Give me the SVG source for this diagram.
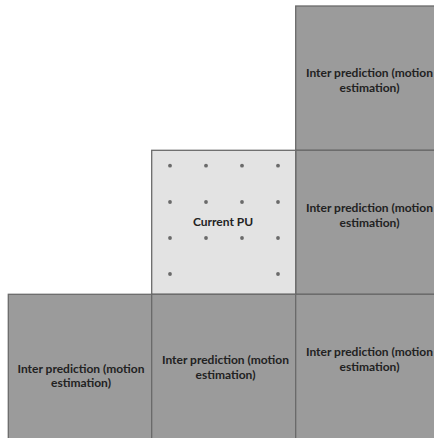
<svg xmlns="http://www.w3.org/2000/svg" width="434" height="438" viewBox="0 0 434 438">
<style>
.blk{fill:#9b9b9b;stroke:#6a6a6a;stroke-width:1.3}
.pu{fill:#e3e3e3;stroke:#6a6a6a;stroke-width:1.3}
.t{font-family:Lato,"Liberation Sans",sans-serif;font-weight:bold;font-size:12px;fill:#222;text-anchor:middle}
.d{fill:#6a6a6a}
</style>
<rect width="434" height="438" fill="#ffffff"/>
<g id="tr"><rect class="blk" x="295.7" y="6" width="150" height="144.3"/>
<text class="t" x="369.5" y="77">Inter prediction (motion</text><text class="t" x="369.5" y="91.6">estimation)</text></g>
<g id="mr"><rect class="blk" x="295.7" y="150.3" width="150" height="144"/>
<text class="t" x="369.5" y="211.6">Inter prediction (motion</text><text class="t" x="369.5" y="227">estimation)</text></g>
<g id="pu"><rect class="pu" x="151.7" y="150.3" width="144" height="144"/>
<g class="d">
<circle cx="170" cy="165.7" r="1.9"/><circle cx="206" cy="165.7" r="1.9"/><circle cx="242" cy="165.7" r="1.9"/><circle cx="278" cy="165.7" r="1.9"/>
<circle cx="170" cy="202" r="1.9"/><circle cx="206" cy="202" r="1.9"/><circle cx="242" cy="202" r="1.9"/><circle cx="278" cy="202" r="1.9"/>
<circle cx="170" cy="238" r="1.9"/><circle cx="206" cy="238" r="1.9"/><circle cx="242" cy="238" r="1.9"/><circle cx="278" cy="238" r="1.9"/>
<circle cx="170" cy="274" r="1.9"/><circle cx="278" cy="274" r="1.9"/>
</g>
<text class="t" x="223" y="226.3">Current PU</text></g>
<g id="bl"><rect class="blk" x="8.3" y="294.3" width="143.4" height="150"/>
<text class="t" x="81" y="372.5">Inter prediction (motion</text><text class="t" x="81" y="387">estimation)</text></g>
<g id="bm"><rect class="blk" x="151.7" y="294.3" width="144" height="150"/>
<text class="t" x="225.5" y="364">Inter prediction (motion</text><text class="t" x="225.5" y="378.5">estimation)</text></g>
<g id="br"><rect class="blk" x="295.7" y="294.3" width="150" height="150"/>
<text class="t" x="369.5" y="356">Inter prediction (motion</text><text class="t" x="369.5" y="371">estimation)</text></g>
<g id="connectors"></g>
</svg>
